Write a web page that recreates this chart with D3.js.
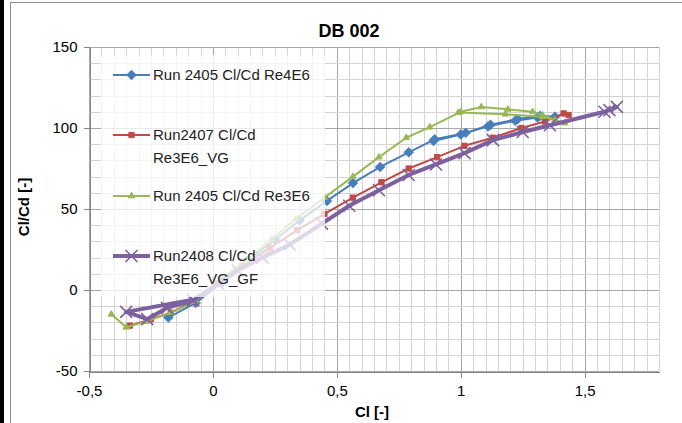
<!DOCTYPE html>
<html><head><meta charset="utf-8">
<script src="https://cdn.jsdelivr.net/npm/d3@7"></script>
<style>body{margin:0;background:#fff}svg{display:block}</style>
</head><body>
<svg id="c" width="682" height="423"></svg>
<script>
// ---- data ----
const chartTitle = "DB 002";
const xTicks = [-0.5, 0, 0.5, 1, 1.5];
const yTicks = [-50, 0, 50, 100, 150];
const seriesNames = ["Run 2405 Cl/Cd Re4E6", "Run2407 Cl/Cd|Re3E6_VG", "Run 2405 Cl/Cd Re3E6", "Run2408 Cl/Cd|Re3E6_VG_GF"];

const blueCl = [-0.18, -0.07, 0.04, 0.14, 0.25, 0.35, 0.46, 0.565, 0.675, 0.79, 0.895, 1.02, 1.12, 1.23, 1.32, 1.38, 1.31, 1.22, 1.11, 1.0, 0.89];
const blueLD = [-17, -8, 5, 18, 31, 43, 55, 66, 76, 85, 93, 97, 102, 105.5, 107.5, 107, 106.5, 104.5, 101, 96, 92];

const redCl = [-0.335, -0.25, -0.17, -0.08, 0.02, 0.12, 0.23, 0.34, 0.45, 0.565, 0.68, 0.79, 0.905, 1.015, 1.13, 1.245, 1.34, 1.415, 1.435];
const redLD = [-22, -18, -14, -7, 4, 15, 26, 37, 47, 57, 66.5, 75, 82, 89, 94, 100, 104, 109, 108];

const greenCl = [-0.41, -0.35, -0.27, -0.17, -0.07, 0.03, 0.13, 0.235, 0.335, 0.45, 0.565, 0.67, 0.78, 0.875, 1.0, 1.083, 1.19, 1.29, 1.33, 1.38, 1.42, 1.33, 1.18, 0.99];
const greenLD = [-15, -23, -19.5, -14, -7, 6, 18, 31, 44, 57, 70, 82, 94, 100.5, 110, 113, 111.5, 110, 108, 105, 103, 107, 108.5, 109.5];

const purpleCl = [-0.08, -0.35, -0.265, -0.185, -0.08, 0.02, 0.1, 0.2, 0.31, 0.44, 0.55, 0.67, 0.79, 0.9, 1.015, 1.13, 1.25, 1.36, 1.58, 1.63, 1.6];
const purpleLD = [-6, -13.5, -18, -11, -6.5, 4, 12, 20, 28, 41, 52, 61.6, 71, 77.5, 84.5, 92.5, 97.5, 101.7, 110, 113, 111];

// ---- chart ----
const svg = d3.select("#c");
const FONT = "'Liberation Sans', Arial, sans-serif";
const x = d3.scaleLinear().domain([-0.5, 1.8]).range([89, 659]);
const y = d3.scaleLinear().domain([-50, 150]).range([371, 47]);
const fmt = d => String(d).replace(".", ",");

// frame
svg.append("rect").attr("x", 0).attr("y", 0).attr("width", 4).attr("height", 423).attr("fill", "#000");
svg.append("line").attr("x1", 10.5).attr("x2", 10.5).attr("y1", 2).attr("y2", 423).attr("stroke", "#8c8c8c");
svg.append("line").attr("x1", 10).attr("x2", 682).attr("y1", 2.5).attr("y2", 2.5).attr("stroke", "#8c8c8c");

// grid
const g = svg.append("g").attr("shape-rendering", "crispEdges");
const xMinor = d3.range(-0.5, 1.8001, 0.05).map(v => +v.toFixed(2));
const yMinor = d3.range(-50, 150.001, 10);
g.selectAll(".vx").data(xMinor).join("line")
  .attr("x1", d => Math.round(x(d)) + 0.5).attr("x2", d => Math.round(x(d)) + 0.5)
  .attr("y1", y(150)).attr("y2", y(-50))
  .attr("stroke", d => Math.abs(d * 2 - Math.round(d * 2)) < 1e-6 ? "#a6a6a6" : "#d4d4d4");
g.selectAll(".hy").data(yMinor).join("line")
  .attr("y1", d => Math.round(y(d)) + 0.5).attr("y2", d => Math.round(y(d)) + 0.5)
  .attr("x1", x(-0.5)).attr("x2", x(1.8))
  .attr("stroke", d => d % 50 === 0 ? "#a6a6a6" : "#d4d4d4");

// axes
const ax = svg.append("g").attr("transform", `translate(0,${Math.round(y(-50)) + 0.5})`)
  .call(d3.axisBottom(x).tickValues(xTicks).tickFormat(fmt).tickSize(6).tickSizeOuter(0));
const ay = svg.append("g").attr("transform", `translate(${Math.round(x(-0.5)) + 0.5},0)`)
  .call(d3.axisLeft(y).tickValues(yTicks).tickFormat(fmt).tickSize(6).tickSizeOuter(0));
[ax, ay].forEach(a => {
  a.selectAll("path,line").attr("stroke", "#868686").attr("shape-rendering", "crispEdges");
  a.selectAll("text").attr("font-family", FONT).attr("font-size", 15).attr("fill", "#000");
});
ax.selectAll("text").attr("dy", "1.05em");
ay.selectAll("text").attr("x", -12);

// series
const series = [
  {cl: blueCl, ld: blueLD, color: "#4A7EBB", w: 2, m: "diamond"},
  {cl: redCl, ld: redLD, color: "#BE4B48", w: 2, m: "square"},
  {cl: greenCl, ld: greenLD, color: "#98B954", w: 2, m: "triangle"},
  {cl: purpleCl, ld: purpleLD, color: "#7D60A0", w: 4, m: "x"}
];
const line = d3.line().x(d => x(d[0])).y(d => y(d[1]));
function marker(sel, m, color) {
  if (m === "x") {
    sel.append("path").attr("d", "M-6,-6L6,6M-6,6L6,-6").attr("stroke", color).attr("stroke-width", 1.6).attr("fill", "none");
  } else if (m === "diamond") {
    sel.append("path").attr("d", "M0,-5L5,0L0,5L-5,0Z").attr("fill", color).attr("stroke", color).attr("stroke-width", 0.5);
  } else {
    const t = {square: d3.symbolSquare, triangle: d3.symbolTriangle}[m];
    const s = {square: 28, triangle: 18}[m];
    sel.append("path").attr("d", d3.symbol(t, s)()).attr("fill", color).attr("stroke", color);
  }
}
const sg = svg.append("g");
series.forEach(s => {
  const pts = s.cl.map((c, i) => [c, s.ld[i]]);
  sg.append("path").datum(pts).attr("d", line).attr("fill", "none")
    .attr("stroke", s.color).attr("stroke-width", s.w).attr("stroke-linejoin", "round");
  sg.selectAll(null).data(pts).join("g")
    .attr("transform", d => `translate(${x(d[0])},${y(d[1])})`)
    .each(function () { marker(d3.select(this), s.m, s.color); });
});

// legend
svg.append("rect").attr("x", 101).attr("y", 55).attr("width", 224).attr("height", 242)
  .attr("fill", "#fff").attr("fill-opacity", 0.75);
const legY = [75, 135, 196, 256];
const lg = svg.append("g");
series.forEach((s, i) => {
  const row = lg.append("g").attr("transform", `translate(0,${legY[i]})`);
  row.append("line").attr("x1", 113).attr("x2", 150).attr("y1", 0).attr("y2", 0)
    .attr("stroke", s.color).attr("stroke-width", s.w);
  const mk = row.append("g").attr("transform", "translate(131.5,0)");
  marker(mk, s.m, s.color);
  const parts = seriesNames[i].split("|");
  parts.forEach((p, j) => {
    row.append("text").attr("x", 153).attr("y", j * 23).attr("dy", "0.36em")
      .attr("font-family", FONT).attr("font-size", 15).attr("fill", "#222").text(p);
  });
});

// titles
svg.append("text").attr("x", 349).attr("y", 37).attr("text-anchor", "middle")
  .attr("font-family", FONT).attr("font-weight", "bold").attr("font-size", 18).text(chartTitle);
svg.append("text").attr("x", 372).attr("y", 417).attr("text-anchor", "middle")
  .attr("font-family", FONT).attr("font-weight", "bold").attr("font-size", 15).text("Cl [-]");
svg.append("text").attr("transform", "translate(29,207) rotate(-90)").attr("text-anchor", "middle")
  .attr("font-family", FONT).attr("font-weight", "bold").attr("font-size", 15).text("Cl/Cd [-]");
</script>
</body></html>
